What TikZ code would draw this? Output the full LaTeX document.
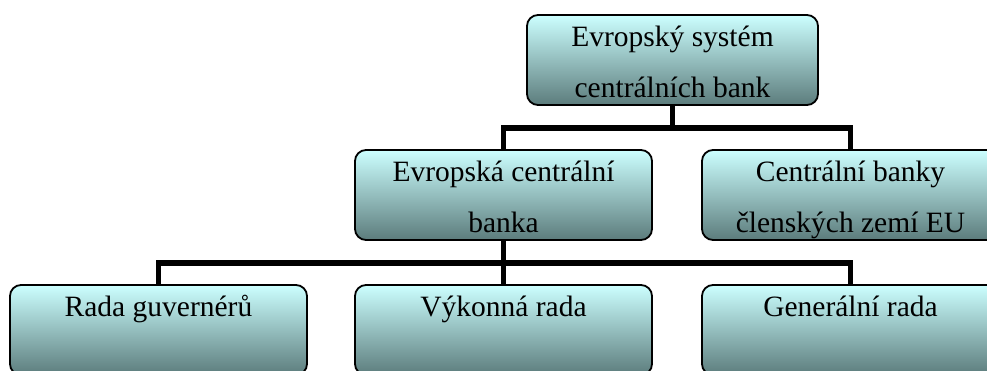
\documentclass[tikz,border=0pt]{standalone}
\usepackage{fontspec}
\setmainfont{Liberation Serif}
\usetikzlibrary{positioning}
\definecolor{boxtop}{RGB}{204,255,255}
\definecolor{boxmid}{RGB}{168,214,214}
\definecolor{boxbot}{RGB}{92,124,124}
\newcommand{\boxtext}[2]{\parbox[t][90pt][t]{#1}{\centering\rule{0pt}{31pt}#2}}
\begin{document}
\begin{tikzpicture}[x=1pt, y=1pt,
	orgbox/.style={draw=black, line width=1.8pt, rounded corners=11pt, inner sep=0pt,
		top color=boxtop, middle color=boxmid, bottom color=boxbot,
		font=\fontsize{29.5}{51}\selectfont},
	conn/.style={draw=black, line width=5.5pt, line join=miter}]
	\clip (0,0) rectangle (987,-370);
	% top level
	\node[orgbox] (esc) at (672.5,-60) {\boxtext{291pt}{Evropský systém\\centrálních bank}};
	% second level
	\node[orgbox] (ecb) at (503.5,-195) {\boxtext{297pt}{Evropská centrální\\banka}};
	\node[orgbox] (ncb) at (850.5,-195) {\boxtext{297pt}{Centrální banky\\členských zemí EU}};
	% third level
	\node[orgbox] (rg) at (158.5,-330) {\boxtext{297pt}{Rada guvernérů}};
	\node[orgbox] (vr) at (503.5,-330) {\boxtext{297pt}{Výkonná rada}};
	\node[orgbox] (gr) at (850.5,-330) {\boxtext{297pt}{Generální rada}};

	\draw[conn] (esc.south) -- ++(0,-22) coordinate (topjoin);
	\draw[conn] (ecb.north) |- (topjoin) -| (ncb.north);
	\draw[conn] (ecb.south) -- ++(0,-22) coordinate (lowjoin);
	\draw[conn] (rg.north) |- (lowjoin) -| (gr.north);
	\draw[conn] (lowjoin) -- (vr.north);
\end{tikzpicture}
\end{document}
